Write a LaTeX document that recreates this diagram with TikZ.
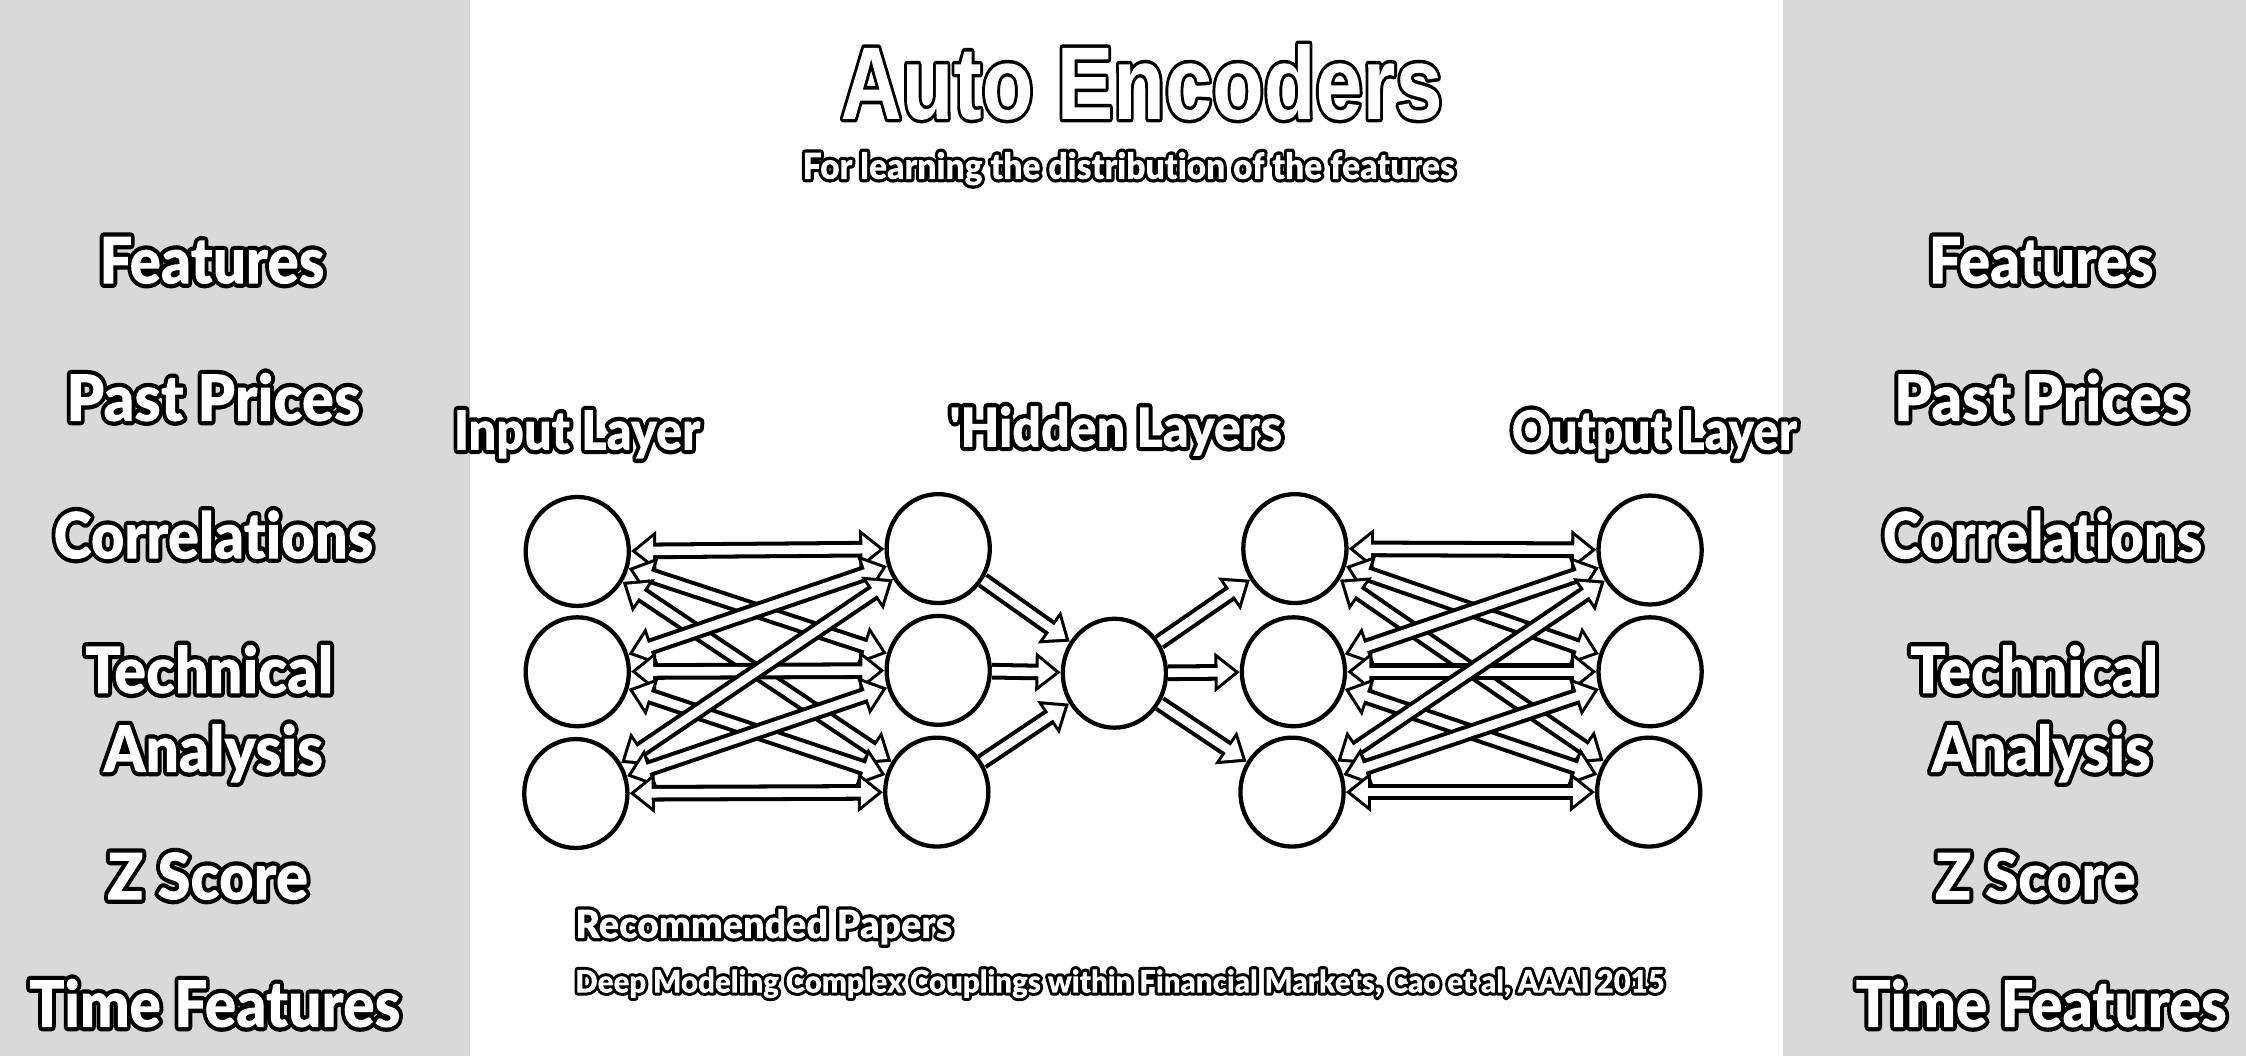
\documentclass[tikz,border=0pt]{standalone}
\usepackage{fontspec}
\usetikzlibrary{shapes.geometric,arrows.meta}
\IfFontExistsTF{Lato Black}{\newfontfamily\heavy[Ligatures=NoCommon]{Lato Black}}{%
  \IfFontExistsTF{Fira Sans Heavy}{\newfontfamily\heavy[Ligatures=NoCommon]{Fira Sans Heavy}}{%
    \newfontfamily\heavy[Ligatures=NoCommon]{Liberation Sans Bold}}}
\newfontfamily\tfont{Liberation Sans Bold}
% white letters with a black rim: stroke + clip, then refill the letters
\newcommand{\outl}[2][1.7]{\special{pdf:literal q 6 Tr #1 w 0 G 1 j}\rlap{#2}\special{pdf:literal 1 g -9999 -9999 19998 19998 re f Q}\phantom{#2}}
% squeeze a text to a given width (in picture units)
\newsavebox\fitbox
\newcommand{\fit}[2]{\sbox\fitbox{#2}\pgfmathsetmacro\fitx{#1*0.28453/\the\wd\fitbox}\scalebox{\fitx}[1]{\usebox\fitbox}}
\tikzset{
  unit/.style={draw, ellipse, line width=0.85pt, minimum width=0.72cm, minimum height=0.76cm, inner sep=0pt},
  caption/.style={text=white, anchor=base, inner sep=0pt, font=\heavy\fontsize{#1}{#1}\selectfont},
  both/.style={draw=white, line width=1.7pt, shorten >=1pt, shorten <=1pt,
    {Triangle[length=3.4pt,width=5.2pt]}-{Triangle[length=3.4pt,width=5.2pt]},
    preaction={draw=black, line width=3.3pt, shorten >=0pt, shorten <=0pt,
      {Triangle[length=5pt,width=7.6pt]}-{Triangle[length=5pt,width=7.6pt]}}},
  feed/.style={draw=white, line width=1.7pt, shorten >=1pt,
    -{Triangle[length=3.4pt,width=5.2pt]},
    preaction={draw=black, line width=3.3pt, shorten >=0pt,
      -{Triangle[length=5pt,width=7.6pt]}}}
}
\begin{document}
\begin{tikzpicture}[x=0.01cm, y=-0.01cm]
  \useasboundingbox (0,0) rectangle (1568,737);
  % side panels
  \fill[gray!30] (0,0) rectangle (328,737);
  \fill[gray!30] (1245,0) rectangle (1568,737);

  % titles
  \node[caption=20.5, font=\tfont\fontsize{20.5}{20.5}\selectfont] (title) at (797,83) {\fit{420}{\outl[1.4]{Auto Encoders}}};
  \node[caption=7.2] (sub) at (788,125) {\fit{455}{\outl[1.3]{For learning the distribution of the features}}};

  % feature lists
  \node[caption=12.8] (L1) at (148,198) {\fit{157}{\outl{Features}}};
  \node[caption=12.8] (L2) at (149,294) {\fit{205}{\outl{Past Prices}}};
  \node[caption=12.8] (L3) at (149,390) {\fit{223}{\outl{Correlations}}};
  \node[caption=12.8] (L4) at (146,484) {\fit{173}{\outl{Technical}}};
  \node[caption=12.8] (L5) at (149,539) {\fit{153}{\outl{Analysis}}};
  \node[caption=12.8] (L6) at (145,628) {\fit{140}{\outl{Z Score}}};
  \node[caption=12.8] (L7) at (150,717) {\fit{259}{\outl{Time Features}}};
  \node[caption=12.8] (R1) at (1425,198) {\fit{157}{\outl{Features}}};
  \node[caption=12.8] (R2) at (1425,294) {\fit{205}{\outl{Past Prices}}};
  \node[caption=12.8] (R3) at (1426,390) {\fit{223}{\outl{Correlations}}};
  \node[caption=12.8] (R4) at (1420,484) {\fit{173}{\outl{Technical}}};
  \node[caption=12.8] (R5) at (1425,539) {\fit{153}{\outl{Analysis}}};
  \node[caption=12.8] (R6) at (1421,628) {\fit{140}{\outl{Z Score}}};
  \node[caption=12.8] (R7) at (1425,717) {\fit{259}{\outl{Time Features}}};

  % layer names
  \node[caption=10.8] (inl) at (403,314) {\fit{172}{\outl{Input Layer}}};
  \node[caption=10.8] (hidl) at (779,312) {\fit{232}{\outl{\textquotesingle Hidden Layers}}};
  \node[caption=10.8] (outl) at (1155,314) {\fit{199}{\outl{Output Layer}}};

  % units
  \node[unit] (I1) at (403,385) {};
  \node[unit] (I2) at (403,469) {};
  \node[unit] (I3) at (402,554) {};
  \node[unit] (A1) at (655,383) {};
  \node[unit] (A2) at (655,468) {};
  \node[unit] (A3) at (654,553) {};
  \node[unit] (M) at (778,470) {};
  \node[unit] (B1) at (904,383) {};
  \node[unit] (B2) at (903,469) {};
  \node[unit] (B3) at (902,553) {};
  \node[unit] (O1) at (1152,384) {};
  \node[unit] (O2) at (1152,469) {};
  \node[unit] (O3) at (1151,553) {};

  % input <-> first hidden
  \draw[both] (I1) -- (A1);
  \draw[both] (I1) -- (A2);
  \draw[both] (I1) -- (A3);
  \draw[both] (I2) -- (A1);
  \draw[both] (I2) -- (A2);
  \draw[both] (I2) -- (A3);
  \draw[both] (I3) -- (A1);
  \draw[both] (I3) -- (A2);
  \draw[both] (I3) -- (A3);
  % bottleneck
  \draw[feed] (A1) -- (M);
  \draw[feed] (A2) -- (M);
  \draw[feed] (A3) -- (M);
  \draw[feed] (M) -- (B1);
  \draw[feed] (M) -- (B2);
  \draw[feed] (M) -- (B3);
  % second hidden <-> output
  \draw[both] (B1) -- (O1);
  \draw[both] (B1) -- (O2);
  \draw[both] (B1) -- (O3);
  \draw[both] (B2) -- (O1);
  \draw[both] (B2) -- (O2);
  \draw[both] (B2) -- (O3);
  \draw[both] (B3) -- (O1);
  \draw[both] (B3) -- (O2);
  \draw[both] (B3) -- (O3);

  % papers
  \node[caption=7.8, anchor=base west] (rec) at (401,655) {\fit{263}{\outl[1.3]{Recommended Papers}}};
  \node[caption=6.2, anchor=base west] (ref) at (401,693) {\fit{760}{\outl[1.2]{Deep Modeling Complex Couplings within Financial Markets, Cao et al, AAAI 2015}}};
\end{tikzpicture}
\end{document}
